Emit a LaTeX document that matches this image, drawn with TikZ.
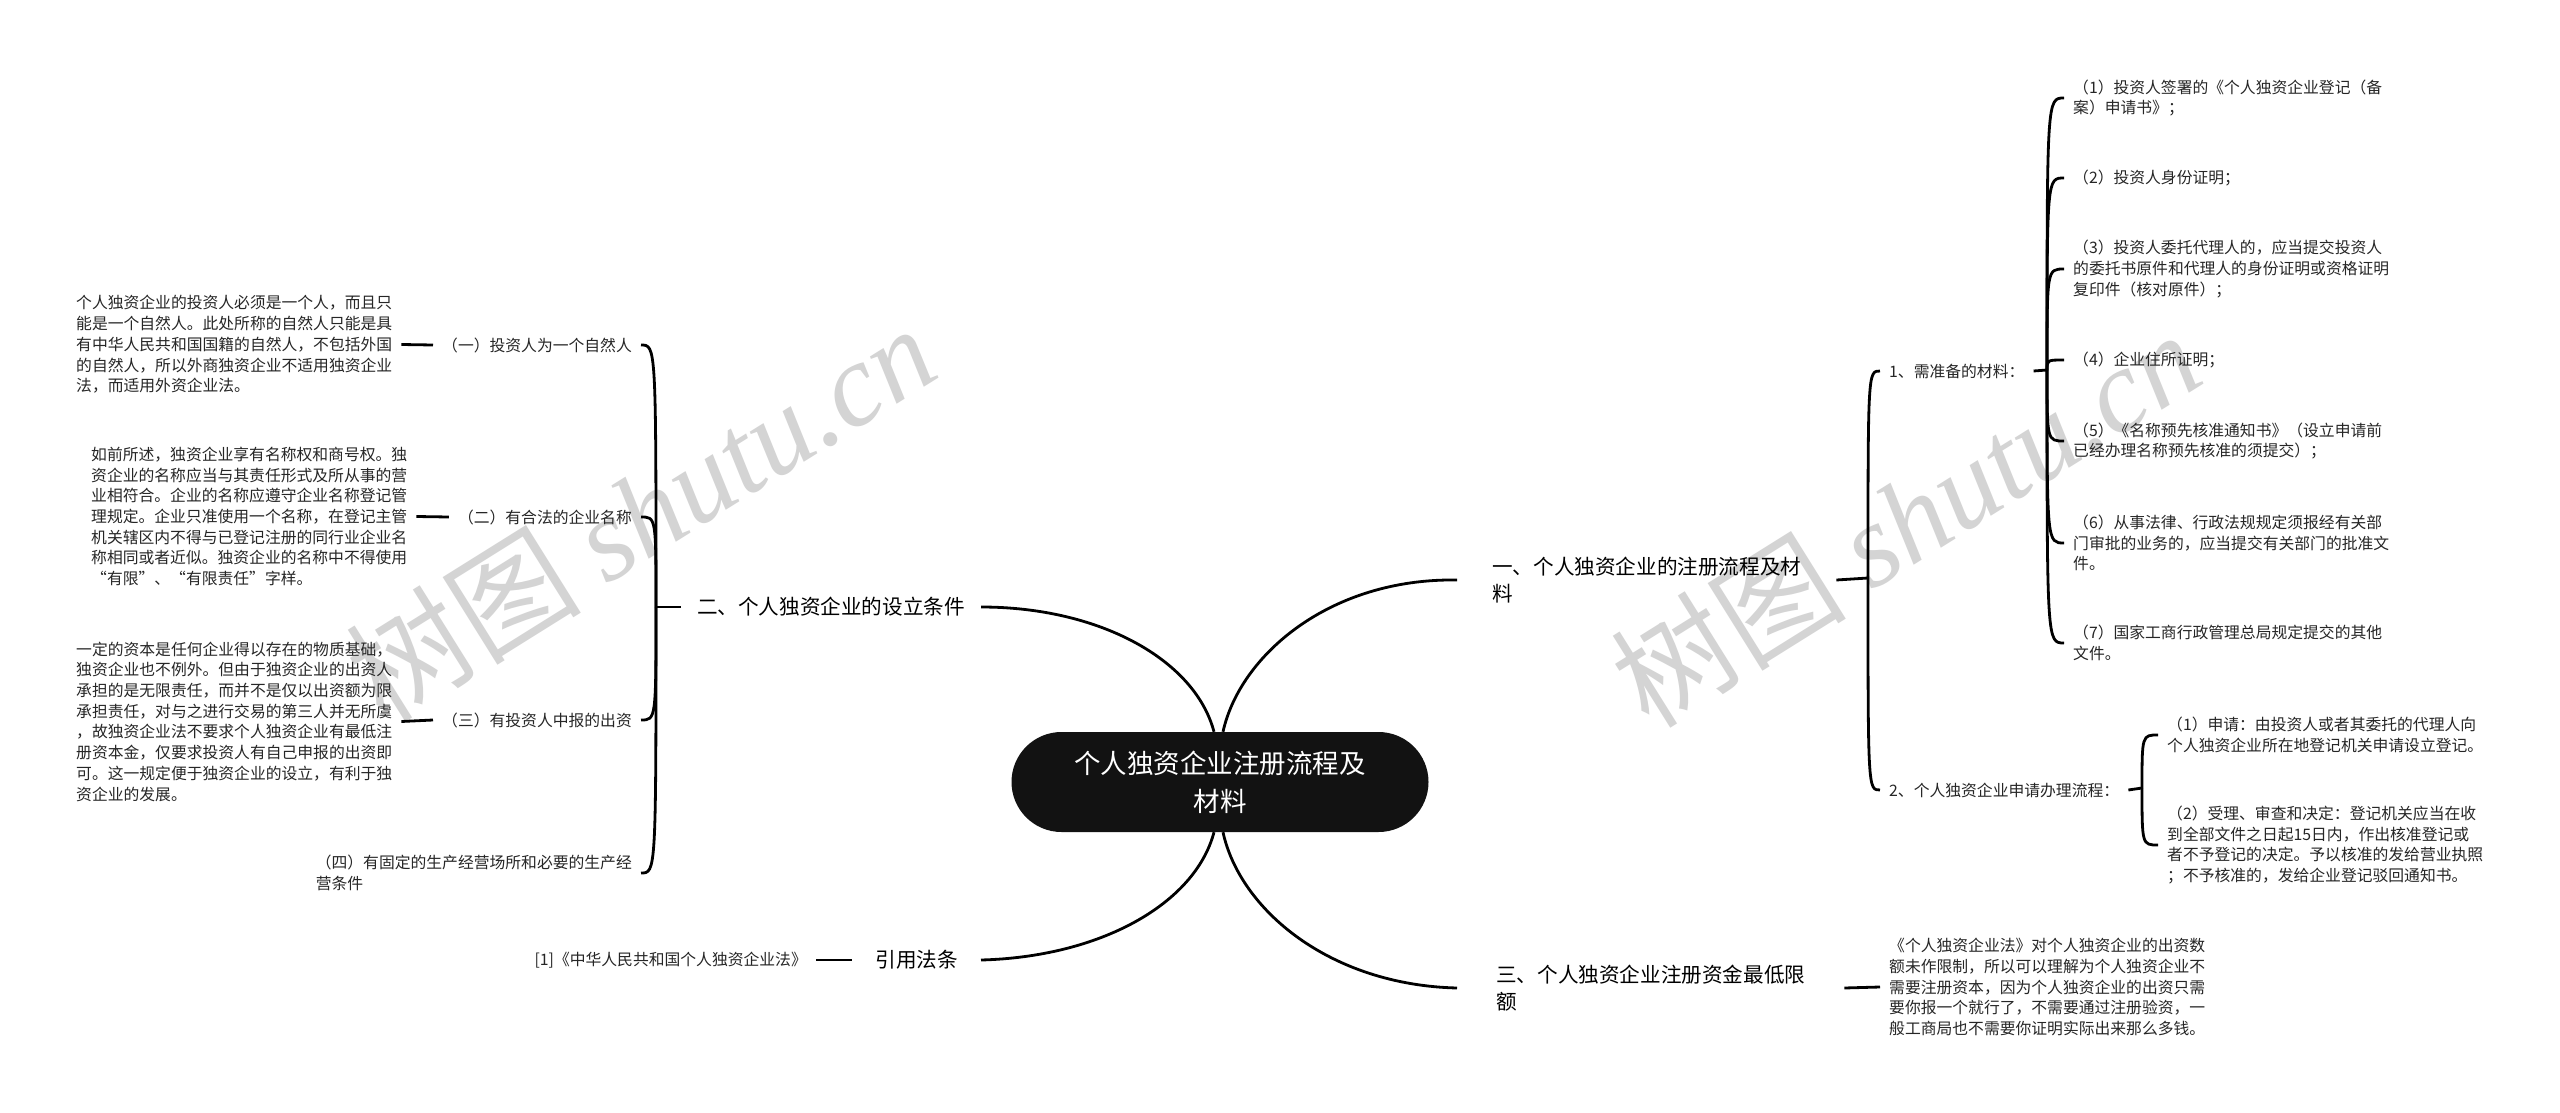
\documentclass[tikz,border=0pt]{standalone}
\usepackage{fontspec}
\setmainfont{Noto Sans CJK SC}
\newfontfamily\wmfont{Liberation Serif}
\usetikzlibrary{calc}

\tikzset{
  rootnode/.style={fill=black!93, text=white, rounded corners=50pt, minimum width=417pt, minimum height=100pt, align=center, font=\fontsize{26.5}{38}\selectfont},
  branch/.style={align=left, inner ysep=0pt, inner xsep=16pt, text=black, font=\fontsize{20.6}{26.5}\selectfont},
  leaf/.style={align=left, inner ysep=0pt, inner xsep=9pt, text=black!85, font=\fontsize{15.8}{20.7}\selectfont},
  watermark/.style={text=black!17, rotate=32, font=\fontsize{118}{118}\selectfont},
  link/.style={line width=2.8pt, black},
  brace/.style={link, to path={.. controls (\tikztostart |- \tikztotarget) and (\tikztostart |- \tikztotarget) .. (\tikztotarget)}},
}

\begin{document}
\begin{tikzpicture}[x=1pt, y=-1pt]
			%%%%% START %%%%%
			\fill[white] (0,0) rectangle (2560,1113);
			\useasboundingbox (0,0) rectangle (2560,1113);
			
			\node[watermark] (wm1) at (640,512) {树图 {\wmfont\itshape shutu.cn}};
			\node[watermark] (wm2) at (1905,518) {树图 {\wmfont\itshape shutu.cn}};
			
			\node[rootnode] (root) at (1220,782) {个人独资企业注册流程及\\材料};
			
			%% main branches
			\node[branch, inner xsep=35pt, anchor=west] (b1) at (1457,580) {一、个人独资企业的注册流程及材\\料};
			\node[branch, anchor=east] (b2) at (981,607) {二、个人独资企业的设立条件};
			\node[branch, inner xsep=39pt, anchor=west] (b3) at (1457,988) {三、个人独资企业注册资金最低限\\额};
			\node[branch, inner xsep=23pt, anchor=east] (b4) at (981,960) {引用法条};
			
			\draw[link] ([xshift=-6pt]root.north) .. controls (1195,660) and (1100,607) .. (b2.east);
			\draw[link] ([xshift=3pt]root.north) .. controls (1240,655) and (1330,578) .. (b1.west);
			\draw[link] ([xshift=-6pt]root.south) .. controls (1195,904) and (1100,957) .. (b4.east);
			\draw[link] ([xshift=3pt]root.south) .. controls (1240,910) and (1330,985) .. (b3.west);
			
			%% left: conditions
			\node[leaf, anchor=east] (c21) at (641,345) {（一）投资人为一个自然人};
			\node[leaf, anchor=east] (c22) at (641,517) {（二）有合法的企业名称};
			\node[leaf, anchor=east] (c23) at (641,720) {（三）有投资人中报的出资};
			\node[leaf, anchor=east] (c24) at (641,873) {（四）有固定的生产经营场所和必要的生产经\\营条件};
			
			\node[leaf, anchor=west] (g1) at (67,344.5) {个人独资企业的投资人必须是一个人，而且只\\能是一个自然人。此处所称的自然人只能是具\\有中华人民共和国国籍的自然人，不包括外国\\的自然人，所以外商独资企业不适用独资企业\\法，而适用外资企业法。};
			\node[leaf, anchor=west] (g2) at (82,516.5) {如前所述，独资企业享有名称权和商号权。独\\资企业的名称应当与其责任形式及所从事的营\\业相符合。企业的名称应遵守企业名称登记管\\理规定。企业只准使用一个名称，在登记主管\\机关辖区内不得与已登记注册的同行业企业名\\称相同或者近似。独资企业的名称中不得使用\\“有限”、“有限责任”字样。};
			\node[leaf, anchor=west] (g3) at (67,721.5) {一定的资本是任何企业得以存在的物质基础，\\独资企业也不例外。但由于独资企业的出资人\\承担的是无限责任，而并不是仅以出资额为限\\承担责任，对与之进行交易的第三人并无所虞\\，故独资企业法不要求个人独资企业有最低注\\册资本金，仅要求投资人有自己申报的出资即\\可。这一规定便于独资企业的设立，有利于独\\资企业的发展。};
			
			\coordinate (j2) at (656,607);
			\draw[link] (b2.west) -- (j2);
			\foreach \c in {c21,c22,c23,c24}
			  \draw[brace] (j2) to (\c.east);
			\draw[link] (g1.east) -- (c21.west);
			\draw[link] (g2.east) -- (c22.west);
			\draw[link] (g3.east) -- (c23.west);
			
			%% right: process and materials
			\node[leaf, anchor=west] (c11) at (1880,371) {1、需准备的材料：};
			\node[leaf, anchor=west] (c12) at (1880,790) {2、个人独资企业申请办理流程：};
			
			\node[leaf, anchor=west] (i1) at (2064,98) {（1）投资人签署的《个人独资企业登记（备\\案）申请书》；};
			\node[leaf, anchor=west] (i2) at (2064,178) {（2）投资人身份证明；};
			\node[leaf, anchor=west] (i3) at (2064,269) {（3）投资人委托代理人的，应当提交投资人\\的委托书原件和代理人的身份证明或资格证明\\复印件（核对原件）；};
			\node[leaf, anchor=west] (i4) at (2064,360) {（4）企业住所证明；};
			\node[leaf, anchor=west] (i5) at (2064,441) {（5）《名称预先核准通知书》（设立申请前\\已经办理名称预先核准的须提交）；};
			\node[leaf, anchor=west] (i6) at (2064,543) {（6）从事法律、行政法规规定须报经有关部\\门审批的业务的，应当提交有关部门的批准文\\件。};
			\node[leaf, anchor=west] (i7) at (2064,643) {（7）国家工商行政管理总局规定提交的其他\\文件。};
			
			\node[leaf, anchor=west] (k1) at (2158,735) {（1）申请：由投资人或者其委托的代理人向\\个人独资企业所在地登记机关申请设立登记。};
			\node[leaf, anchor=west] (k2) at (2158,845) {（2）受理、审查和决定：登记机关应当在收\\到全部文件之日起15日内，作出核准登记或\\者不予登记的决定。予以核准的发给营业执照\\；不予核准的，发给企业登记驳回通知书。};
			
			\coordinate (j1) at (1868,578);
			\coordinate (j11) at (2047,370);
			\coordinate (j12) at (2142,788);
			\draw[link] (b1.east) -- (j1);
			\foreach \c in {c11,c12}
			  \draw[brace] (j1) to (\c.west);
			\draw[link] (c11.east) -- (j11);
			\foreach \c in {i1,i2,i3,i4,i5,i6,i7}
			  \draw[brace] (j11) to (\c.west);
			\draw[link] (c12.east) -- (j12);
			\foreach \c in {k1,k2}
			  \draw[brace] (j12) to (\c.west);
			
			%% minimum capital and law
			\node[leaf, anchor=west] (d1) at (1880,987) {《个人独资企业法》对个人独资企业的出资数\\额未作限制，所以可以理解为个人独资企业不\\需要注册资本，因为个人独资企业的出资只需\\要你报一个就行了，不需要通过注册验资，一\\般工商局也不需要你证明实际出来那么多钱。};
			\draw[link] (b3.east) -- (d1.west);
			
			\node[leaf, anchor=east] (e1) at (816,960) {[1]《中华人民共和国个人独资企业法》};
			\draw[link] (e1.east) -- (b4.west);
			%%%%% END %%%%%
\end{tikzpicture}
\end{document}
